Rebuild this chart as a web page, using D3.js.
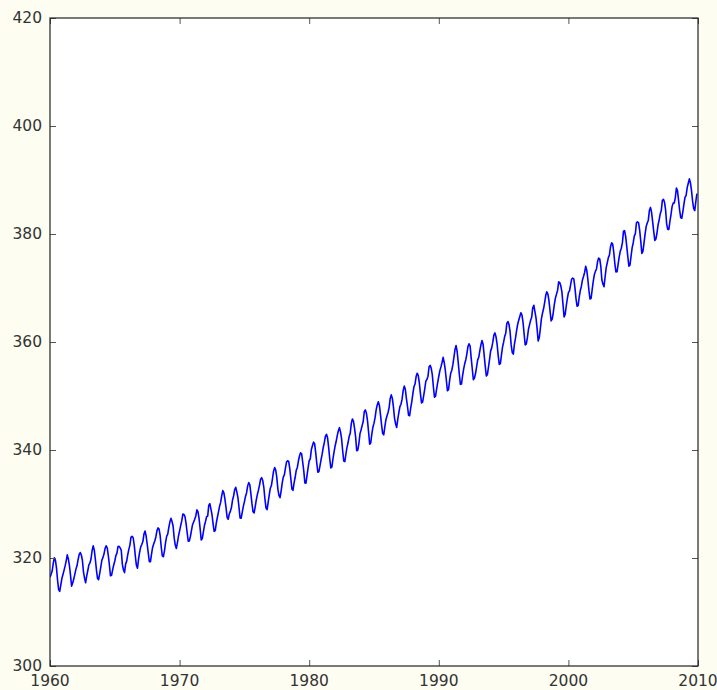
<!DOCTYPE html>
<html>
<head>
<meta charset="utf-8">
<script src="https://cdn.jsdelivr.net/npm/d3@7"></script>
<style>
  html, body { margin: 0; padding: 0; background: #fdfdf1; }
  svg { display: block; }
  .tick-label { font-family: "DejaVu Sans", sans-serif; font-size: 15.5px; fill: #333; }
</style>
</head>
<body>
<svg id="chart"></svg>
<script>
// monthly CO2 (ppm), Jan..Dec for each year starting at firstYear
const firstYear = 1960;
const co2Monthly = [
  316.43, 316.97, 317.58, 319.02, 320.03, 319.59, 318.18, 315.91, 314.16, 313.83, 315.00, 316.19, // 1960
  316.93, 317.70, 318.54, 319.48, 320.58, 319.77, 318.57, 316.79, 314.80, 315.38, 316.10, 317.01, // 1961
  317.94, 318.56, 319.68, 320.63, 321.01, 320.55, 319.58, 317.40, 316.26, 315.42, 316.69, 317.69, // 1962
  318.74, 319.08, 319.86, 321.39, 322.25, 321.47, 319.74, 317.77, 316.21, 315.99, 317.12, 318.31, // 1963
  319.57, 320.07, 320.73, 321.77, 322.25, 321.89, 320.44, 318.70, 316.70, 316.79, 317.79, 318.71, // 1964
  319.44, 320.44, 320.89, 322.13, 322.16, 321.87, 321.39, 318.81, 317.81, 317.30, 318.87, 319.42, // 1965
  320.62, 321.59, 322.39, 323.87, 324.01, 323.75, 322.39, 320.37, 318.64, 318.10, 319.79, 321.08, // 1966
  322.07, 322.50, 323.04, 324.42, 325.00, 324.09, 322.55, 320.92, 319.31, 319.31, 320.72, 321.96, // 1967
  322.57, 323.15, 323.89, 325.02, 325.57, 325.36, 324.14, 322.03, 320.41, 320.25, 321.31, 322.84, // 1968
  324.00, 324.42, 325.64, 326.66, 327.34, 326.76, 325.88, 323.67, 322.38, 321.78, 322.85, 324.11, // 1969
  325.03, 325.99, 326.87, 328.13, 328.07, 327.66, 326.35, 324.69, 323.10, 323.16, 323.98, 325.13, // 1970
  326.17, 326.68, 327.18, 327.78, 328.92, 328.57, 327.34, 325.46, 323.36, 323.57, 324.80, 326.01, // 1971
  326.77, 327.63, 327.75, 329.72, 330.07, 329.09, 328.05, 326.32, 324.93, 325.06, 326.50, 327.55, // 1972
  328.54, 329.56, 330.30, 331.50, 332.48, 332.07, 330.87, 329.31, 327.51, 327.18, 328.16, 328.64, // 1973
  329.35, 330.71, 331.48, 332.65, 333.09, 332.25, 331.18, 329.40, 327.43, 327.37, 328.46, 329.57, // 1974
  330.40, 331.40, 332.04, 333.31, 333.96, 333.59, 331.91, 330.06, 328.56, 328.34, 329.49, 330.76, // 1975
  331.75, 332.56, 333.50, 334.58, 334.87, 334.34, 333.05, 330.94, 329.30, 328.94, 330.31, 331.68, // 1976
  332.93, 333.42, 334.70, 336.07, 336.74, 336.27, 334.93, 332.75, 331.58, 331.16, 332.40, 333.85, // 1977
  334.97, 335.39, 336.64, 337.76, 338.01, 337.89, 336.54, 334.68, 332.76, 332.54, 333.92, 334.95, // 1978
  336.23, 336.76, 337.96, 338.89, 339.47, 339.29, 337.73, 336.09, 333.91, 333.86, 335.29, 336.73, // 1979
  338.01, 338.36, 340.08, 340.77, 341.46, 341.17, 339.56, 337.60, 335.88, 336.01, 337.10, 338.21, // 1980
  339.23, 340.47, 341.38, 342.51, 342.91, 342.25, 340.49, 338.43, 336.69, 336.85, 338.36, 339.61, // 1981
  340.75, 341.61, 342.70, 343.56, 344.13, 343.35, 342.06, 339.82, 337.97, 337.86, 339.26, 340.49, // 1982
  341.38, 342.52, 343.10, 344.94, 345.75, 345.32, 343.99, 342.39, 339.86, 339.99, 341.16, 342.99, // 1983
  343.70, 344.51, 345.28, 347.08, 347.43, 346.79, 345.40, 343.28, 341.07, 341.35, 342.98, 344.22, // 1984
  344.97, 345.99, 347.42, 348.35, 348.93, 348.25, 346.56, 344.67, 343.09, 342.80, 344.24, 345.56, // 1985
  346.30, 346.95, 347.85, 349.55, 350.21, 349.55, 347.94, 345.91, 344.86, 344.17, 345.66, 346.90, // 1986
  348.02, 348.47, 349.42, 350.99, 351.84, 351.25, 349.52, 348.10, 346.44, 346.36, 347.81, 348.96, // 1987
  350.43, 351.72, 352.22, 353.59, 354.22, 353.79, 352.39, 350.44, 348.72, 348.88, 350.07, 351.34, // 1988
  352.76, 353.07, 353.68, 355.42, 355.67, 355.13, 353.90, 351.67, 349.80, 349.99, 351.30, 352.53, // 1989
  353.66, 354.70, 355.39, 356.20, 357.16, 356.22, 354.82, 352.91, 350.96, 351.18, 352.83, 354.21, // 1990
  354.72, 355.75, 357.16, 358.60, 359.34, 358.24, 356.17, 354.03, 352.16, 352.21, 353.75, 354.99, // 1991
  355.98, 356.72, 357.81, 359.15, 359.66, 359.25, 357.02, 355.00, 353.01, 353.31, 354.16, 355.40, // 1992
  356.70, 357.17, 358.38, 359.46, 360.28, 359.60, 357.57, 355.52, 353.70, 353.98, 355.33, 356.80, // 1993
  358.36, 358.91, 359.97, 361.26, 361.68, 360.95, 359.55, 357.49, 355.84, 355.99, 357.58, 359.04, // 1994
  359.96, 361.00, 361.64, 363.45, 363.79, 363.26, 361.90, 359.46, 358.06, 357.75, 359.56, 360.70, // 1995
  362.05, 363.25, 364.03, 364.72, 365.41, 364.97, 363.65, 361.49, 359.46, 359.60, 360.76, 362.33, // 1996
  363.18, 364.00, 364.57, 366.35, 366.79, 365.62, 364.47, 362.51, 360.19, 360.77, 362.43, 364.28, // 1997
  365.32, 366.15, 367.31, 368.61, 369.29, 368.87, 367.64, 365.77, 363.90, 364.23, 365.46, 366.97, // 1998
  368.15, 368.87, 369.59, 371.14, 371.00, 370.35, 369.27, 366.94, 364.63, 365.12, 366.67, 368.01, // 1999
  369.14, 369.46, 370.52, 371.66, 371.82, 371.70, 370.12, 368.12, 366.62, 366.73, 368.29, 369.53, // 2000
  370.28, 371.50, 372.12, 372.87, 374.02, 373.30, 371.62, 369.55, 367.96, 368.09, 369.68, 371.24, // 2001
  372.44, 373.08, 373.52, 374.85, 375.55, 375.40, 374.02, 371.48, 370.71, 370.25, 372.08, 373.78, // 2002
  374.68, 375.63, 376.11, 377.65, 378.35, 378.13, 376.62, 374.50, 372.99, 373.00, 374.35, 375.70, // 2003
  376.79, 377.36, 378.39, 380.50, 380.62, 379.55, 377.76, 375.83, 374.05, 374.22, 375.84, 377.44, // 2004
  378.34, 379.61, 380.08, 382.05, 382.24, 382.08, 380.66, 378.67, 376.42, 376.80, 378.31, 379.96, // 2005
  381.37, 382.02, 382.56, 384.37, 384.92, 384.03, 382.28, 380.48, 378.81, 379.06, 380.14, 381.66, // 2006
  382.58, 383.71, 384.34, 386.23, 386.41, 385.87, 384.45, 381.84, 380.86, 380.86, 382.36, 383.61, // 2007
  385.07, 385.72, 385.73, 386.74, 388.49, 388.03, 386.26, 384.40, 383.02, 382.93, 384.16, 385.56, // 2008
  386.82, 387.13, 388.58, 389.40, 390.21, 389.48, 388.03, 386.08, 384.72, 384.33, 386.05, 387.49  // 2009
];

const xTicks = [1960, 1970, 1980, 1990, 2000, 2010];
const yTicks = [300, 320, 340, 360, 380, 400, 420];

const width = 717, height = 690;
const margin = { top: 18, right: 19, bottom: 24, left: 50 };
const innerW = width - margin.left - margin.right;
const innerH = height - margin.top - margin.bottom;

const data = co2Monthly.map((v, i) => ({ t: firstYear + i / 12, v: v }));

const svg = d3.select("#chart").attr("width", width).attr("height", height);

const x = d3.scaleLinear().domain([1960, 2010]).range([0, innerW]);
const y = d3.scaleLinear().domain([300, 420]).range([innerH, 0]);

const g = svg.append("g").attr("transform", `translate(${margin.left},${margin.top})`);

g.append("rect")
    .attr("width", innerW)
    .attr("height", innerH)
    .attr("fill", "#ffffff");

g.append("clipPath").attr("id", "clip")
    .append("rect").attr("width", innerW).attr("height", innerH);

const line = d3.line().x(d => x(d.t)).y(d => y(d.v));

g.append("path")
    .datum(data)
    .attr("clip-path", "url(#clip)")
    .attr("fill", "none")
    .attr("stroke", "#0000ff")
    .attr("stroke-width", 1.6)
    .attr("stroke-linejoin", "round")
    .attr("d", line);

// inward ticks on all four sides, matplotlib classic look
const tickLen = 6;
const tickStyle = sel => sel.select(".domain").remove();

g.append("g")
    .attr("transform", `translate(0,${innerH})`)
    .call(d3.axisTop(x).tickValues(xTicks).tickSize(tickLen).tickFormat(""))
    .call(tickStyle);
g.append("g")
    .call(d3.axisBottom(x).tickValues(xTicks).tickSize(tickLen).tickFormat(""))
    .call(tickStyle);
g.append("g")
    .call(d3.axisRight(y).tickValues(yTicks).tickSize(tickLen).tickFormat(""))
    .call(tickStyle);
g.append("g")
    .attr("transform", `translate(${innerW},0)`)
    .call(d3.axisLeft(y).tickValues(yTicks).tickSize(tickLen).tickFormat(""))
    .call(tickStyle);

g.selectAll(".tick line").attr("stroke", "#555").attr("stroke-width", 1);

// tick labels
g.selectAll(".xlab")
    .data(xTicks)
    .join("text")
    .attr("class", "tick-label")
    .attr("x", d => x(d))
    .attr("y", innerH + 20)
    .attr("text-anchor", "middle")
    .text(d => d);

g.selectAll(".ylab")
    .data(yTicks)
    .join("text")
    .attr("class", "tick-label")
    .attr("x", -8)
    .attr("y", d => y(d))
    .attr("dy", "0.35em")
    .attr("text-anchor", "end")
    .text(d => d);

// frame
g.append("rect")
    .attr("width", innerW)
    .attr("height", innerH)
    .attr("fill", "none")
    .attr("stroke", "#222")
    .attr("stroke-width", 1.2);
</script>
</body>
</html>
